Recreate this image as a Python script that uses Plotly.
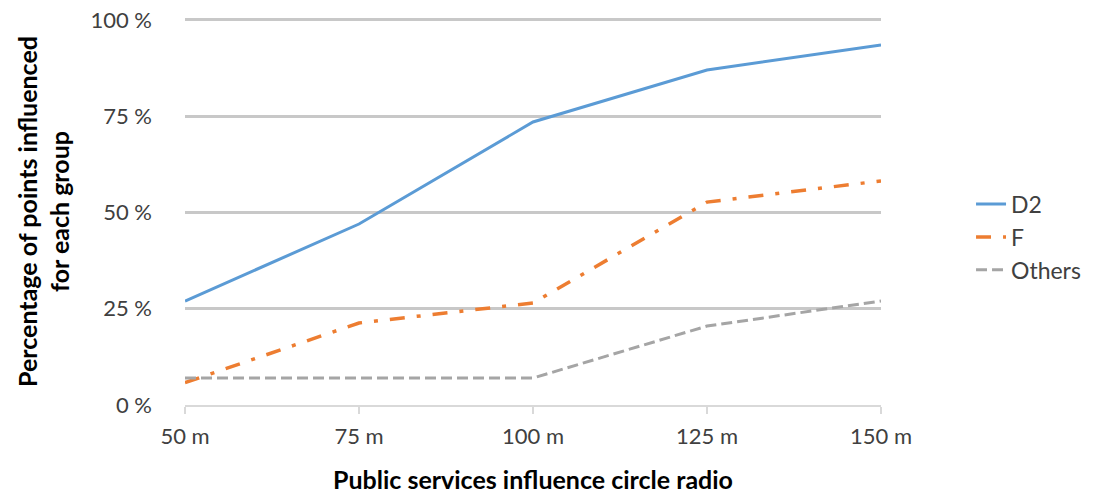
import plotly.graph_objects as go

radius_m = [50, 75, 100, 125, 150]
tick_labels = ["50 m", "75 m", "100 m", "125 m", "150 m"]
d2 = [27.0, 47.0, 73.5, 87.0, 93.5]
f = [5.8, 21.3, 26.5, 52.7, 58.2]
others = [7.0, 7.0, 7.0, 20.5, 27.0]
y_ticks = [0, 25, 50, 75, 100]
y_tick_labels = ["0 %", "25 %", "50 %", "75 %", "100 %"]

fig = go.Figure()
fig.add_trace(go.Scatter(x=radius_m, y=d2, mode="lines", name="D2",
                         line=dict(color="#5b9bd5", width=3)))
fig.add_trace(go.Scatter(x=radius_m, y=f, mode="lines", name="F",
                         line=dict(color="#ed7d31", width=3.5, dash="15px,12px,4px,12px")))
fig.add_trace(go.Scatter(x=radius_m, y=others, mode="lines", name="Others",
                         line=dict(color="#a5a5a5", width=3, dash="11px,5px")))

font_family = "Lato, Open Sans, sans-serif"

fig.update_layout(
    width=1094, height=494,
    margin=dict(l=185, r=213, t=18, b=89, autoexpand=False),
    plot_bgcolor="white", paper_bgcolor="white",
    font=dict(family=font_family, size=22, color="#404040"),
    showlegend=True,
    legend=dict(xref="container", yref="container", x=0.8876, y=0.52,
                xanchor="left", yanchor="middle",
                font=dict(size=23, color="#404040"), tracegroupgap=0,
                itemwidth=30),
    xaxis=dict(range=[50, 150], tickvals=radius_m, ticktext=tick_labels,
               showgrid=False, zeroline=False, showline=True,
               linecolor="#d9d9d9", linewidth=2, automargin=False,
               ticks="outside", ticklen=7, tickcolor="#d9d9d9", tickwidth=2,
               ticklabelstandoff=4,
               title=dict(text="<b>Public services influence circle radio</b>",
                          font=dict(size=25, color="#000000"), standoff=24)),
    yaxis=dict(range=[0, 100.5], tickvals=y_ticks, ticktext=y_tick_labels,
               showgrid=True, gridcolor="#c8c8c8", gridwidth=3,
               zeroline=False, showline=False, ticks="", ticklabelstandoff=32,
               automargin=False,
               title=dict(text="<b>Percentage of points influenced<br>for each group</b>",
                          font=dict(size=25, color="#000000"), standoff=13)),
)

fig.write_html("out.html", post_script="document.body.style.margin='0';",
               config={"displayModeBar": False})
